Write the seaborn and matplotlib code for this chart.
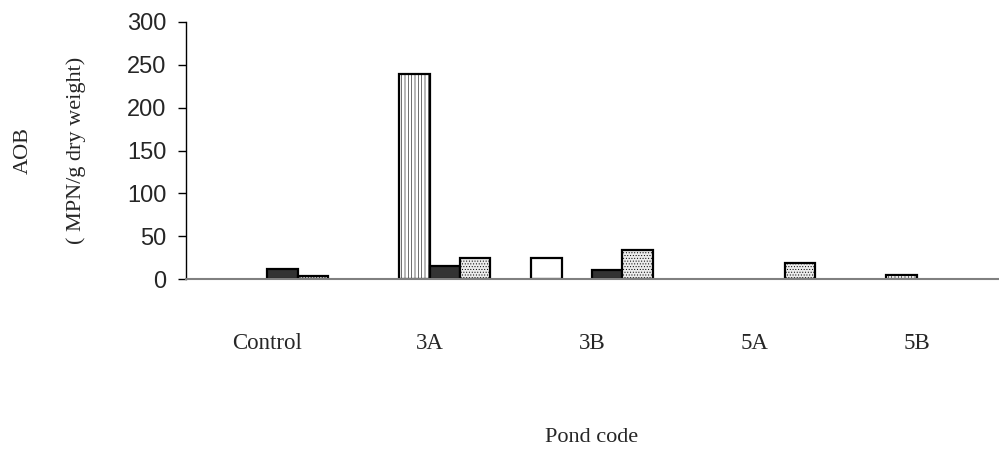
import matplotlib
matplotlib.use("Agg")
import matplotlib.pyplot as plt
import seaborn as sns
import pandas as pd

# AOB counts (MPN/g dry weight) per pond and sampling series
ponds = ["Control", "3A", "3B", "5A", "5B"]
series = ["S1", "S2", "S3", "S4"]
s1 = [0, 0, 24, 0, 0]
s2 = [0, 239, 0, 0, 5]
s3 = [12, 15, 10, 0, 0]
s4 = [3, 24, 34, 19, 0]
y_ticks = [0, 50, 100, 150, 200, 250, 300]

sns.set_style("white")
plt.rcParams["font.family"] = ["Liberation Serif", "DejaVu Serif"]
plt.rcParams["hatch.linewidth"] = 0.4

rows = []
for name, vals in zip(series, [s1, s2, s3, s4]):
    for p, v in zip(ponds, vals):
        rows.append({"pond": p, "series": name, "aob": v})
df = pd.DataFrame(rows)

fills = {"S1": "white", "S2": "white", "S3": "#333333", "S4": "#ececec"}
hatches = {"S1": "", "S2": "|||||", "S3": "", "S4": "......"}

fig = plt.figure(figsize=(9.99, 4.5), dpi=100)
ax = fig.add_axes([186 / 999, 171 / 450, 812 / 999, 257 / 450])

sns.barplot(data=df, x="pond", y="aob", hue="series", order=ponds,
            hue_order=series, palette=fills, edgecolor="black",
            linewidth=1.6, width=0.75, legend=False, ax=ax)

for cont, name in zip(ax.containers, series):
    for bar in cont:
        bar.set_hatch(hatches[name])
        bar.set_edgecolor("black")
        if bar.get_height() == 0:
            bar.set_visible(False)

ax.set_xlim(-0.5, len(ponds) - 0.5)
ax.set_ylim(0, 300)
ax.set_yticks(y_ticks)
ax.set_yticklabels([str(t) for t in y_ticks], family="Liberation Sans", fontsize=17)
ax.set_xticks(range(len(ponds)))
ax.set_xticklabels(ponds, fontsize=16.5)
ax.set_xticks([i - 0.5 for i in range(len(ponds) + 1)], minor=True)
ax.tick_params(axis="x", which="major", length=0, pad=39)
ax.tick_params(axis="x", which="minor", length=9, width=1, color="black", direction="out")
ax.tick_params(axis="y", which="major", length=6, width=1, color="black", direction="out",
               left=True, pad=8)
ax.set_xlabel("")
ax.set_ylabel("")

for side in ["top", "right"]:
    ax.spines[side].set_visible(False)
ax.spines["left"].set_color("black")
ax.spines["left"].set_linewidth(1)
ax.spines["bottom"].set_color("#808080")
ax.spines["bottom"].set_linewidth(1.5)

fig.text(23 / 999, 1 - 150.5 / 450, "AOB", rotation=90, ha="center", va="center", fontsize=16)
fig.text(76 / 999, 1 - 150.5 / 450, "( MPN/g dry weight)", rotation=90, ha="center",
         va="center", fontsize=16)
fig.text(592 / 999, 1 - 438 / 450, "Pond code", ha="center", va="center", fontsize=16)

fig.savefig("out.png", dpi=100)
